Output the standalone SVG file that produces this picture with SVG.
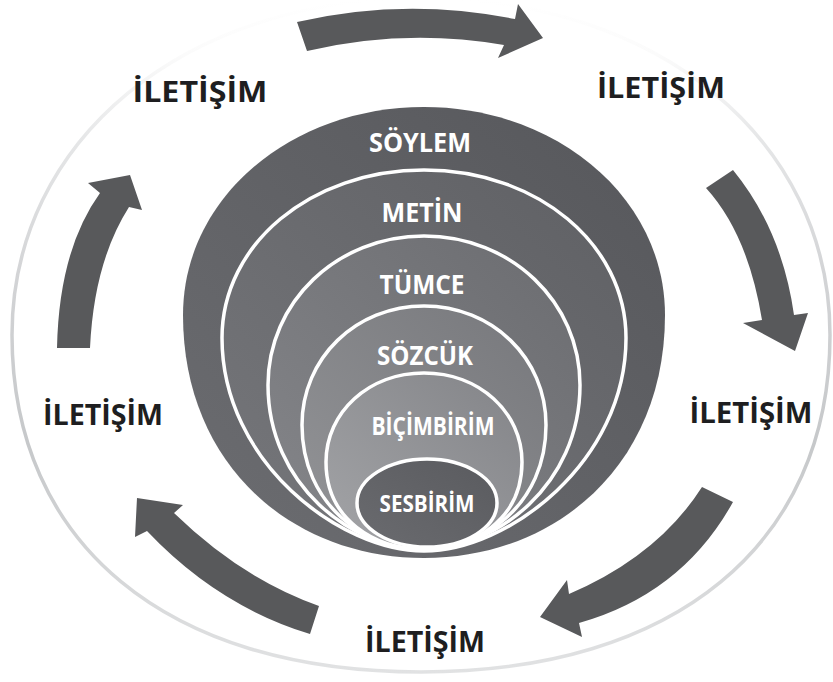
<svg xmlns="http://www.w3.org/2000/svg" width="833" height="682" viewBox="0 0 833 682">
<defs>
<style>
.lbl{font-family:"Open Sans","Liberation Sans",sans-serif;font-weight:700;fill:#ffffff;text-anchor:middle}
.ile{font-family:"Open Sans","Liberation Sans",sans-serif;font-weight:700;fill:#1e1e20;text-anchor:middle;font-size:29px}
.arrow{fill:#58595b}
.sep{stroke:#ffffff;stroke-width:3.5}
</style>
<linearGradient id="ring" gradientUnits="userSpaceOnUse" x1="0" y1="0" x2="0" y2="682">
<stop offset="0" stop-color="#ffffff"/>
<stop offset="0.08" stop-color="#fbfbfb"/>
<stop offset="0.2" stop-color="#e6e7e8"/>
<stop offset="0.4" stop-color="#d3d4d6"/>
<stop offset="0.65" stop-color="#c6c8ca"/>
<stop offset="1" stop-color="#e2e3e4"/>
</linearGradient>
<linearGradient id="g1" x1="1" y1="0" x2="0" y2="1"><stop offset="0" stop-color="#56575b"/><stop offset="1" stop-color="#6c6d71"/></linearGradient>
<linearGradient id="g2" x1="1" y1="0" x2="0" y2="1"><stop offset="0" stop-color="#5f6064"/><stop offset="1" stop-color="#76777b"/></linearGradient>
<linearGradient id="g3" x1="1" y1="0" x2="0" y2="1"><stop offset="0" stop-color="#6b6c70"/><stop offset="1" stop-color="#85868a"/></linearGradient>
<linearGradient id="g4" x1="1" y1="0" x2="0" y2="1"><stop offset="0" stop-color="#77787c"/><stop offset="1" stop-color="#939497"/></linearGradient>
<linearGradient id="g5" x1="1" y1="0" x2="0" y2="1"><stop offset="0" stop-color="#838488"/><stop offset="1" stop-color="#a3a4a7"/></linearGradient>
<linearGradient id="g6" x1="1" y1="0" x2="0" y2="1"><stop offset="0" stop-color="#5a5b5f"/><stop offset="1" stop-color="#6a6b6f"/></linearGradient>
</defs>
<rect width="833" height="682" fill="#ffffff"/>
<path d="M421,-2 C658,-2 830,140 830,335 C830,544 675,672 421,672 C167,672 12,544 12,335 C12,140 184,-2 421,-2 Z" fill="none" stroke="url(#ring)" stroke-width="3.5"/>

<g id="soylem">
<path d="M424,558 C292,558 183,465 183,315 C183,198 291,107 424,107 C557,107 665,198 665,315 C665,465 556,558 424,558 Z" fill="url(#g1)"/>
<text class="lbl" x="420" y="152" font-size="26" textLength="102" lengthAdjust="spacingAndGlyphs">SÖYLEM</text>
</g>
<g id="metin">
<path class="sep" d="M424,551 C340,551 222,462 222,338 C222,244 311,170 424,170 C537,170 626,244 626,338 C626,462 508,551 424,551 Z" fill="url(#g2)"/>
<text class="lbl" x="422" y="222" font-size="26" textLength="81" lengthAdjust="spacingAndGlyphs">METİN</text>
</g>
<g id="tumce">
<path class="sep" d="M424,549 C352,549 268,485 268,385 C268,302 337,236 424,236 C511,236 580,302 580,385 C580,485 496,549 424,549 Z" fill="url(#g3)"/>
<text class="lbl" x="422" y="294" font-size="26" textLength="85" lengthAdjust="spacingAndGlyphs">TÜMCE</text>
</g>
<g id="sozcuk">
<path class="sep" d="M424,549 C365,549 302,505 302,425 C302,358 356,306 424,306 C492,306 546,358 546,425 C546,505 483,549 424,549 Z" fill="url(#g4)"/>
<text class="lbl" x="425" y="365" font-size="26" textLength="96" lengthAdjust="spacingAndGlyphs">SÖZCÜK</text>
</g>
<g id="bicimbirim">
<path class="sep" d="M424,549 C375,549 326,520 326,462 C326,412 369,373 424,373 C479,373 522,412 522,462 C522,520 473,549 424,549 Z" fill="url(#g5)"/>
<text class="lbl" x="433" y="435" font-size="25" textLength="123" lengthAdjust="spacingAndGlyphs">BİÇİMBİRİM</text>
</g>
<g id="sesbirim">
<ellipse class="sep" cx="427" cy="503" rx="70" ry="44" fill="url(#g6)"/>
<text class="lbl" x="427" y="512" font-size="24" textLength="95" lengthAdjust="spacingAndGlyphs">SESBİRİM</text>
</g>

<g id="connectors">
<path class="arrow" d="M297,22 Q405,-3 515,19 L518,4 L543,38 L498,58 L504,45 Q405,28 307,51 Z"/>
<path class="arrow" d="M733,170 Q782,230 794,315 L808,313 L795,351 L743,323 L762,320 Q748,234 706,188 Z"/>
<path class="arrow" d="M733,502 Q682,594 579,623 L582,637 L540,617 L567,580 L569,594 Q658,556 702,487 Z"/>
<path class="arrow" d="M310,634 Q218,606 147,531 L135,537 L137,498 L183,505 L174,513 Q242,579 319,606 Z"/>
<path class="arrow" d="M57,348 Q59,250 100,193 L88,183 L130,175 L142,210 L129,207 Q94,262 90,348 Z"/>
</g>

<g id="iletisim-tl"><text class="ile" x="200" y="102" textLength="135" lengthAdjust="spacingAndGlyphs">İLETİŞİM</text></g>
<g id="iletisim-tr"><text class="ile" x="661" y="98" textLength="128" lengthAdjust="spacingAndGlyphs">İLETİŞİM</text></g>
<g id="iletisim-r"><text class="ile" x="751" y="423" textLength="123" lengthAdjust="spacingAndGlyphs">İLETİŞİM</text></g>
<g id="iletisim-l"><text class="ile" x="103" y="425" textLength="120" lengthAdjust="spacingAndGlyphs">İLETİŞİM</text></g>
<g id="iletisim-b"><text class="ile" x="425" y="652" textLength="120" lengthAdjust="spacingAndGlyphs">İLETİŞİM</text></g>
</svg>
